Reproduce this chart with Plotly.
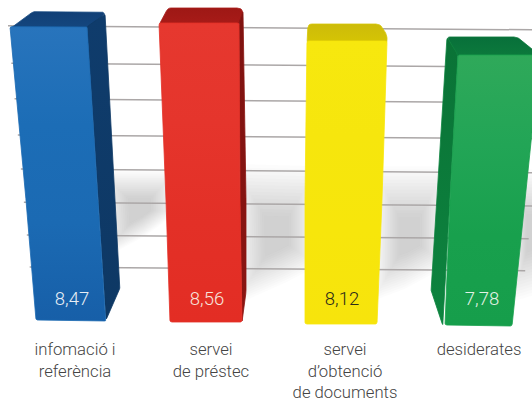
import plotly.graph_objects as go

# ---- data
categories = ["infomació i<br>referència", "servei<br>de préstec",
              "servei<br>d’obtenció<br>de documents", "desiderates"]
values = [8.47, 8.56, 8.12, 7.78]
value_labels = ["8,47", "8,56", "8,12", "7,78"]
grid_levels = [8.49, 7.58, 6.71, 5.83, 5.0, 4.19, 3.39, 2.61]

W, H = 532, 401
PLOT_BOTTOM_PX = 330
PX_PER_UNIT = 41.0
TOP_VALUE = 8.56 + 23 / PX_PER_UNIT            # value at pixel row 0
BASE_VALUE = TOP_VALUE - PLOT_BOTTOM_PX / PX_PER_UNIT


def v(px):
    """pixel row -> value on the y axis"""
    return TOP_VALUE - px / PX_PER_UNIT


def rounded(pts, r=3, n=4):
    out = []
    m = len(pts)
    for i in range(m):
        p0, p1, p2 = pts[i - 1], pts[i], pts[(i + 1) % m]
        def toward(a, b):
            d = ((a[0] - b[0]) ** 2 + (a[1] - b[1]) ** 2) ** .5 or 1
            k = min(r, d / 2) / d
            return (b[0] + (a[0] - b[0]) * k, b[1] + (a[1] - b[1]) * k)
        a, c = toward(p0, p1), toward(p2, p1)
        for j in range(n + 1):
            t = j / n
            out.append(((1 - t) ** 2 * a[0] + 2 * t * (1 - t) * p1[0] + t * t * c[0],
                        (1 - t) ** 2 * a[1] + 2 * t * (1 - t) * p1[1] + t * t * c[1]))
    return out


fig = go.Figure()


def poly(pts, colors, r=2):
    pts = rounded(pts, r=r)
    xs = [p[0] for p in pts] + [pts[0][0]]
    ys = [v(p[1]) for p in pts] + [v(pts[0][1])]
    # plotly runs a vertical fill gradient from the bottom up: list is given top-down
    cols = colors[::-1]
    scale = [[i / (len(cols) - 1), c] for i, c in enumerate(cols)]
    fig.add_trace(go.Scatter(
        x=xs, y=ys, mode="lines", fill="toself", hoverinfo="skip", showlegend=False,
        line=dict(width=0.8, color=colors[len(colors) // 2]),
        fillgradient=dict(type="vertical", colorscale=scale)))


# soft shadows on the wall
shadow_polys = [
    [(104, 176), (172, 176), (172, 212), (145, 232), (108, 252)],
    [(238, 174), (312, 176), (312, 262), (285, 276), (240, 296)],
    [(378, 176), (442, 176), (442, 262), (405, 282), (378, 292)],
    [(515, 178), (550, 178), (550, 282), (515, 292)],
]
shapes = []
for poly_pts in shadow_polys:
    cx = sum(p[0] for p in poly_pts) / len(poly_pts)
    cy = sum(p[1] for p in poly_pts) / len(poly_pts)
    for k in range(16):
        s = 1.16 - k * 0.055
        path = "M" + " L".join(
            f"{cx + (p[0] - cx) * s:.1f},{v(cy + (p[1] - cy) * s):.3f}" for p in poly_pts) + " Z"
        shapes.append(dict(type="path", path=path, xref="x", yref="y", layer="below",
                           line=dict(width=0), fillcolor="rgba(120,120,120,0.024)"))

# gridlines, with the slight perspective tilt
for lvl in grid_levels:
    row = (TOP_VALUE - lvl) * PX_PER_UNIT
    left = 8 + max(0, row - 26) * 0.09
    right = min(532, 532 - max(0, row - 205) * 0.11)
    fig.add_trace(go.Scatter(
        x=[left, right], y=[lvl, lvl - (right - left) * 0.0075 / PX_PER_UNIT],
        mode="lines", line=dict(color="#aba7a7", width=1.5),
        hoverinfo="skip", showlegend=False))

t = [(TOP_VALUE - val) * PX_PER_UNIT for val in values]   # front-top pixel rows

# blue
poly([(33, t[0] - 15), (102, t[0] - 15), (105, t[0] - 13), (87, t[0] + 2), (10, t[0] + 2)],
     ["#113F76", "#14477F"], r=2)
poly([(87, t[0]), (105, t[0] - 13), (115, 200), (120, 288), (106, 320), (98, 200)],
     ["#0F3C6C", "#0E3864"], r=2)
poly([(10, t[0]), (87, t[0]), (98, 200), (106, 321), (36, 320), (26, 200)],
     ["#2874BC", "#1C6DB6", "#1B6AB3", "#175FA8"], r=1.5)
# red
poly([(168, t[1] - 15), (240, t[1] - 15), (243, t[1] - 12), (239, t[1] + 2), (159, t[1] + 2)],
     ["#9E1815", "#A81B18"], r=3)
poly([(239, t[1]), (243, t[1] - 12), (246, 200), (246, 292), (242, 322), (240, 200)],
     ["#7E1210", "#8A1512"], r=2)
poly([(159, t[1]), (239, t[1]), (240, 200), (242, 322), (170, 322), (166, 200)],
     ["#E6382F", "#E5352C", "#E33027", "#E32D24"], r=2)
# yellow
poly([(308, t[2] - 17), (380, t[2] - 17), (387, t[2] - 6), (387, t[2] + 3), (307, t[2] + 3)],
     ["#CDBB0A", "#D6C503"], r=4)
poly([(307, t[2]), (387, t[2]), (382, 200), (377, 324), (305, 324), (305, 200)],
     ["#F7E80E", "#F6E60D", "#F7E60B", "#F7E40C"], r=2)
# green
poly([(447, t[3] - 18), (517, t[3] - 18), (540, t[3]), (458, t[3] + 2)],
     ["#08703A", "#0C7A3C"], r=3)
poly([(447, t[3] - 18), (458, t[3]), (450, 200), (443, 326), (431, 292), (437, 200)],
     ["#0A7236", "#0D843F"], r=3)
poly([(458, t[3]), (540, t[3]), (525, 200), (512, 326), (445, 325), (450, 200)],
     ["#2FA95A", "#22A556", "#18A04D", "#169E4B"], r=2)

# value labels inside the bars
label_x = [72, 207, 342, 482]
label_colors = ["#E8EEF5", "#F7E3DC", "#2B2A1A", "#E3F2E6"]
fig.add_trace(go.Scatter(
    x=label_x, y=[v(300)] * 4, text=value_labels, mode="text",
    textposition="middle center", hoverinfo="skip", showlegend=False,
    textfont=dict(family="Roboto", size=18.5, color=label_colors, weight=300)))

fig.update_layout(
    width=W, height=H, autosize=False, shapes=shapes,
    margin=dict(l=0, r=0, t=0, b=H - PLOT_BOTTOM_PX, pad=0, autoexpand=False),
    paper_bgcolor="white", plot_bgcolor="white",
    xaxis=dict(range=[0, W], tickmode="array", tickvals=[75, 211, 345, 479],
               ticktext=categories, showgrid=False, zeroline=False, showline=False,
               automargin=False,
               ticks="outside", ticklen=4, tickcolor="rgba(0,0,0,0)",
               tickfont=dict(family="Roboto", size=16.7, color="#444444", weight=300)),
    yaxis=dict(range=[BASE_VALUE, TOP_VALUE], visible=False),
)
fig.write_html("out.html", config={"displayModeBar": False},
               post_script="document.body.style.margin='0';document.body.style.overflow='hidden';")
